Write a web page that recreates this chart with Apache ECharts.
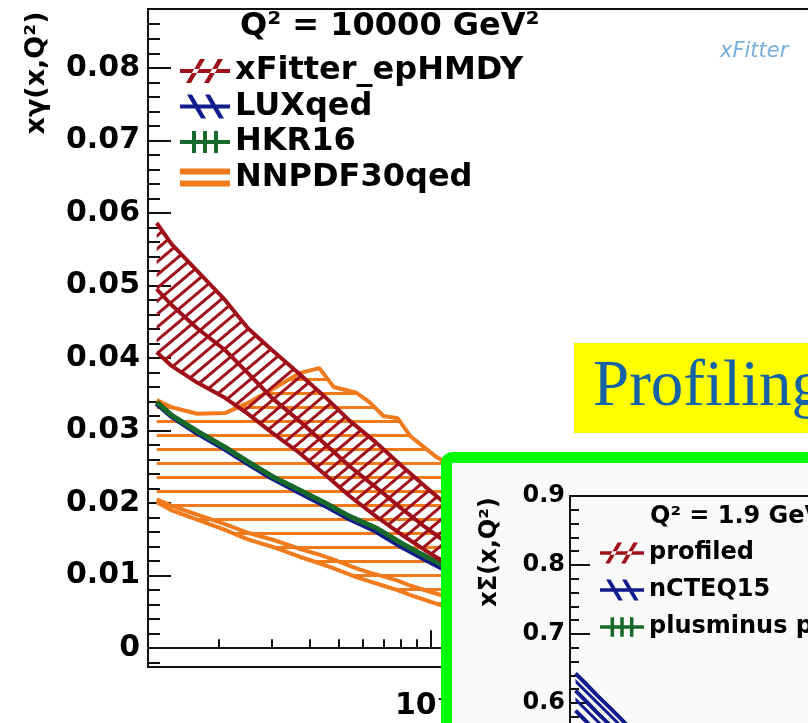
<!DOCTYPE html>
<html>
<head>
<meta charset="utf-8">
<script src="https://cdn.jsdelivr.net/npm/echarts@6/dist/echarts.min.js"></script>
<style>
html, body { margin: 0; padding: 0; background: #fff; }
#chart { width: 808px; height: 723px; }
</style>
</head>
<body>
<div id="chart"></div>
<script>
// main panel, Q2 = 10000 GeV2
var xs = [0.00125, 0.0014, 0.0017, 0.0021, 0.0025, 0.003, 0.0037, 0.0045, 0.0054, 0.0066, 0.008, 0.0096, 0.0116, 0.014];
var fitUp = [0.0586, 0.0557, 0.0520, 0.0480, 0.0441, 0.0411, 0.0378, 0.0346, 0.0314, 0.0284, 0.0252, 0.0223, 0.0194, 0.0167];
var fitMid = [0.0495, 0.0473, 0.0441, 0.0411, 0.0379, 0.0345, 0.0313, 0.0281, 0.0251, 0.0222, 0.0193, 0.0167, 0.0142, 0.0119];
var fitLo = [0.0408, 0.0389, 0.0366, 0.0345, 0.0323, 0.0297, 0.0269, 0.0239, 0.0210, 0.0182, 0.0157, 0.0135, 0.0114, 0.0097];
var luxVal = [0.0338, 0.0320, 0.0297, 0.0275, 0.0255, 0.0235, 0.0215, 0.0197, 0.0179, 0.0162, 0.0141, 0.0123, 0.0105, 0.0090];
var hkrVal = [0.0339, 0.0321, 0.0299, 0.0277, 0.0257, 0.0237, 0.0218, 0.0200, 0.0182, 0.0166, 0.0145, 0.0127, 0.0109, 0.0094];

var nnX = [0.00125, 0.0014, 0.0017, 0.0021, 0.0025, 0.0031, 0.0037, 0.0043, 0.0048, 0.0057, 0.0063, 0.007, 0.0078, 0.0086, 0.0105, 0.0125, 0.0146];
var nnUp = [0.0342, 0.0332, 0.0323, 0.0324, 0.0338, 0.0360, 0.0379, 0.0386, 0.0360, 0.0352, 0.0339, 0.0320, 0.0317, 0.0292, 0.0263, 0.0246, 0.0229];
var nnMid = [0.0205, 0.0196, 0.0184, 0.0171, 0.0159, 0.0148, 0.0137, 0.0129, 0.0122, 0.0110, 0.0104, 0.0099, 0.0093, 0.0086, 0.0075, 0.0065, 0.0055];
var nnLo = [0.0201, 0.0190, 0.0177, 0.0163, 0.0150, 0.0138, 0.0126, 0.0117, 0.0110, 0.0098, 0.0092, 0.0086, 0.0080, 0.0073, 0.0061, 0.0051, 0.0041];

var yMajor = [0, 0.01, 0.02, 0.03, 0.04, 0.05, 0.06, 0.07, 0.08];
var yMinor = [-0.002, 0.002, 0.004, 0.006, 0.008, 0.012, 0.014, 0.016, 0.018, 0.022, 0.024, 0.026, 0.028,
  0.032, 0.034, 0.036, 0.038, 0.042, 0.044, 0.046, 0.048, 0.052, 0.054, 0.056, 0.058,
  0.062, 0.064, 0.066, 0.068, 0.072, 0.074, 0.076, 0.078, 0.082, 0.084, 0.086];
var xMajor = [0.01, 0.1];
var xMinor = [0.002, 0.003, 0.004, 0.005, 0.006, 0.007, 0.008, 0.009, 0.02, 0.03, 0.04, 0.05, 0.06, 0.07, 0.08, 0.09, 0.2];

// inset panel, Q2 = 1.9 GeV2
var inX = [0.0011, 0.0013, 0.0016, 0.002, 0.0025, 0.003];
var ncUp = [0.643, 0.629, 0.611, 0.593, 0.574, 0.559];
var ncMid = [0.618, 0.604, 0.586, 0.568, 0.549, 0.534];
var ncLo = [0.589, 0.575, 0.557, 0.539, 0.520, 0.505];

var RED = '#a0101a', BLUE = '#101c8c', GREEN = '#17692a', ORANGE = '#f07a1c';
var FONT = 'DejaVu Sans';

var iconRed = 'path://M0 10L50 10L50 14L0 14Z M6 24L11 24L25 0L20 0Z M24 24L29 24L43 0L38 0Z';
var iconBlue = 'path://M0 10L50 10L50 14L0 14Z M7 0L12 0L26 24L21 24Z M25 0L30 0L44 24L39 24Z';
var iconGreen = 'path://M0 10L50 10L50 14L0 14Z M12 1L16 1L16 23L12 23Z M23 1L27 1L27 23L23 23Z M34 1L38 1L38 23L34 23Z';
var iconOrange = 'path://M0 3L50 3L50 9L0 9Z M0 15L50 15L50 21L0 21Z';

function pairs(x, y) {
	return x.map(function(v, i) { return [v, y[i]]; });
}
// value first, so the stack runs on y and not on x
function pairsYX(x, y) {
	return x.map(function(v, i) { return [y[i], v]; });
}
function diff(a, b) {
	return a.map(function(v, i) { return +(v - b[i]).toFixed(5); });
}

// band = lower line + stacked hatched area up to the upper line
function band(id, gi, x, lo, up, color, width, hatch, z) {
	return [{
		name: id + ' lo', type: 'line', xAxisIndex: gi, yAxisIndex: gi, stack: id,
		data: pairsYX(x, lo), encode: { x: 1, y: 0 }, showSymbol: false, z: z,
		lineStyle: { color: color, width: width }
	}, {
		name: id + ' band', type: 'line', xAxisIndex: gi, yAxisIndex: gi, stack: id,
		data: pairsYX(x, diff(up, lo)), encode: { x: 1, y: 0 }, showSymbol: false, z: z,
		lineStyle: { color: color, width: width, decal: hatch },
		itemStyle: { color: color, decal: hatch },
		areaStyle: { color: 'rgba(0,0,0,0)', opacity: 1 }
	}];
}
function line(name, gi, x, y, color, width, z) {
	return {
		name: name, type: 'line', xAxisIndex: gi, yAxisIndex: gi,
		data: pairs(x, y), showSymbol: false, z: z,
		lineStyle: { color: color, width: width }, itemStyle: { color: color }
	};
}

var redHatch = { symbol: 'rect', symbolSize: 1, dashArrayX: [1, 0], dashArrayY: [3, 7], rotation: -0.7, color: RED };
var orangeHatch = { symbol: 'rect', symbolSize: 1, dashArrayX: [1, 0], dashArrayY: [3, 11], rotation: 0, color: ORANGE };
var blueHatch = { symbol: 'rect', symbolSize: 1, dashArrayX: [1, 0], dashArrayY: [3, 10], rotation: 0.78, color: BLUE };

var series = [].concat(
	band('nn', 0, nnX, nnLo, nnUp, ORANGE, 4, orangeHatch, 2),
	[line('NNPDF30qed', 0, nnX, nnMid, ORANGE, 4, 2)],
	[line('LUXqed', 0, xs, luxVal, BLUE, 6, 3)],
	[line('HKR16', 0, xs, hkrVal, GREEN, 5, 3)],
	band('fit', 0, xs, fitLo, fitUp, RED, 4, redHatch, 4),
	[line('xFitter_epHMDY', 0, xs, fitMid, RED, 4, 4)],
	band('nc', 1, inX, ncLo, ncUp, BLUE, 4, blueHatch, 22),
	[line('nCTEQ15', 1, inX, ncMid, BLUE, 4, 22)],
	[line('profiled', 1, [], [], RED, 4, 22)],
	[line('plusminus profiled', 1, [], [], GREEN, 4, 22)]
);

var tickStyle = { color: '#111', width: 2 };
var sup = { '-1': '\u207b\u00b9', '-2': '\u207b\u00b2' };

var option = {
	animation: false,
	backgroundColor: '#fff',
	title: [{
		text: 'Q\u00b2 = 10000 GeV\u00b2', left: 240, top: 11, padding: 0,
		textStyle: { fontFamily: FONT, fontWeight: 'bold', fontSize: 32, color: '#000' }
	}, {
		text: 'Q\u00b2 = 1.9 GeV\u00b2', left: 650, top: 505, padding: 0, z: 22,
		textStyle: { fontFamily: FONT, fontWeight: 'bold', fontSize: 24, color: '#000' }
	}],
	legend: [{
		orient: 'vertical', left: 180, top: 55, itemWidth: 50, itemHeight: 24, itemGap: 3.5,
		selectedMode: false, padding: 0,
		itemStyle: { borderWidth: 0 },
		textStyle: { fontFamily: FONT, fontWeight: 'bold', fontSize: 32, lineHeight: 32, color: '#000' },
		data: [
			{ name: 'xFitter_epHMDY', icon: iconRed },
			{ name: 'LUXqed', icon: iconBlue },
			{ name: 'HKR16', icon: iconGreen },
			{ name: 'NNPDF30qed', icon: iconOrange }
		]
	}, {
		orient: 'vertical', left: 600, top: 541, itemWidth: 44, itemHeight: 24, itemGap: 13,
		selectedMode: false, padding: 0, z: 22,
		itemStyle: { borderWidth: 0 },
		textStyle: { fontFamily: FONT, fontWeight: 'bold', fontSize: 24, lineHeight: 24, color: '#000' },
		data: [
			{ name: 'profiled', icon: iconRed },
			{ name: 'nCTEQ15', icon: iconBlue },
			{ name: 'plusminus profiled', icon: iconGreen }
		]
	}],
	grid: [{
		left: 148, top: 9, width: 700, height: 658, outerBoundsMode: 'none', containLabel: false,
		show: true, borderColor: '#111', borderWidth: 2, backgroundColor: '#fff'
	}, {
		left: 570, top: 496, width: 399, height: 621, z: 20, outerBoundsMode: 'none', containLabel: false,
		show: true, borderColor: '#111', borderWidth: 2, backgroundColor: 'transparent'
	}],
	xAxis: [{
		type: 'log', gridIndex: 0, min: 0.00117, max: 0.239, position: 'bottom',
		axisLine: { lineStyle: { color: '#111', width: 2 } },
		axisTick: { inside: true, length: 18, lineStyle: tickStyle, customValues: xMajor },
		axisLabel: {
			customValues: xMajor, margin: 24, color: '#000',
			fontFamily: FONT, fontWeight: 'bold', fontSize: 30,
			formatter: function(v) { return '10' + sup[String(Math.round(Math.log10(v)))]; }
		},
		splitLine: { show: false }
	}, {
		type: 'log', gridIndex: 1, min: 0.001, max: 1, z: 21,
		axisLine: { show: false }, axisTick: { show: false }, axisLabel: { show: false },
		splitLine: { show: false }
	}, {
		type: 'log', gridIndex: 0, min: 0.00117, max: 0.239, position: 'bottom',
		axisLine: { show: false }, axisLabel: { show: false }, splitLine: { show: false },
		axisTick: { inside: true, length: 9, lineStyle: tickStyle, customValues: xMinor }
	}],
	yAxis: [{
		type: 'value', gridIndex: 0, min: -0.0026, max: 0.0881, position: 'left',
		axisLine: { lineStyle: { color: '#111', width: 2 } },
		axisTick: { inside: true, length: 23, lineStyle: tickStyle, customValues: yMajor },
		axisLabel: {
			customValues: yMajor, margin: 8, color: '#000',
			fontFamily: FONT, fontWeight: 'bold', fontSize: 30,
			formatter: function(v) { return Math.abs(v) < 1e-9 ? '0' : v.toFixed(2); }
		},
		splitLine: { show: false }
	}, {
		type: 'value', gridIndex: 1, min: 0, max: 0.9, interval: 0.1, position: 'left', z: 21,
		axisLine: { lineStyle: { color: '#111', width: 2 } },
		axisTick: { inside: true, length: 20, lineStyle: tickStyle },
		minorTick: { show: true, splitNumber: 5, length: 9, lineStyle: tickStyle },
		axisLabel: {
			margin: 5, color: '#000', fontFamily: FONT, fontWeight: 'bold', fontSize: 24,
			formatter: function(v) { return v.toFixed(1); }
		},
		splitLine: { show: false }, minorSplitLine: { show: false }
	}, {
		type: 'value', gridIndex: 0, min: -0.0026, max: 0.0881, position: 'left',
		axisLine: { show: false }, axisLabel: { show: false }, splitLine: { show: false },
		axisTick: { inside: true, length: 12, lineStyle: tickStyle, customValues: yMinor }
	}],
	graphic: {
		elements: [{
			type: 'text', x: 37, y: 73, rotation: Math.PI / 2, z: 1,
			style: { text: 'x\u03b3(x,Q\u00b2)', font: 'bold 27px "DejaVu Sans"', fill: '#000', align: 'center', verticalAlign: 'middle' }
		}, {
			type: 'text', x: 720, y: 52, z: 1,
			style: { text: 'xFitter', font: 'italic 21px "DejaVu Sans"', fill: '#5f9fd6', opacity: 0.85, verticalAlign: 'middle' }
		}, {
			type: 'rect', z: 10,
			shape: { x: 574, y: 343, width: 260, height: 90 },
			style: { fill: '#ffff00' }
		}, {
			type: 'text', x: 593, y: 388, z: 11,
			style: { text: 'Profiling', font: '65px "Liberation Serif"', fill: '#1563a6', verticalAlign: 'middle' }
		}, {
			type: 'rect', z: 10,
			shape: { x: 446.5, y: 457.5, width: 500, height: 400, r: 6 },
			style: { fill: '#fafafa', stroke: '#00ff00', lineWidth: 11 }
		}, {
			type: 'text', x: 490, y: 552, rotation: Math.PI / 2, z: 22,
			style: { text: 'x\u03a3(x,Q\u00b2)', font: 'bold 24px "DejaVu Sans"', fill: '#000', align: 'center', verticalAlign: 'middle' }
		}]
	},
	series: series
};

var chart = echarts.init(document.getElementById('chart'), null, { renderer: 'canvas' });
chart.setOption(option);
</script>
</body>
</html>
